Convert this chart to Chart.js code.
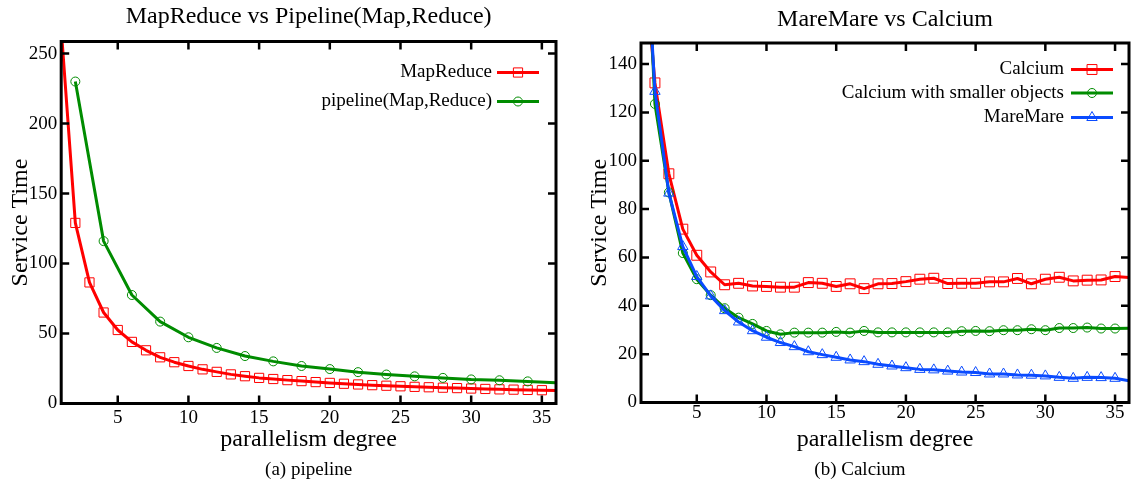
<!DOCTYPE html>
<html>
<head>
<meta charset="utf-8">
<script src="https://cdn.jsdelivr.net/npm/chart.js@4.4.1/dist/chart.umd.min.js"></script>
<style>
  html, body { margin: 0; padding: 0; background: #fff; }
  #wrap { position: relative; width: 1131px; height: 484px; }
  canvas { position: absolute; top: 0; }
</style>
</head>
<body>
<div id="wrap">
  <canvas id="left" width="570" height="484" style="left:0"></canvas>
  <canvas id="right" width="561" height="484" style="left:570px"></canvas>
</div>
<script>
// (a) MapReduce vs pipeline
const mapReduceX = [1, 2, 3, 4, 5, 6, 7, 8, 9, 10, 11, 12, 13, 14, 15, 16, 17, 18,
                    19, 20, 21, 22, 23, 24, 25, 26, 27, 28, 29, 30, 31, 32, 33, 34, 35, 36];
const mapReduceTime = [268, 129, 86.5, 65, 52.5, 44, 38, 33, 29.5, 26.8, 24.4, 22.6, 20.8, 19.5, 18.3, 17.5, 16.7, 16,
                       15.3, 14.7, 14.1, 13.6, 13.1, 12.7, 12.3, 11.9, 11.6, 11.3, 11, 10.7, 10.4, 10.1, 9.9, 9.7, 9.5, 9.2];
const pipelineX = [2, 4, 6, 8, 10, 12, 14, 16, 18, 20, 22, 24, 26, 28, 30, 32, 34, 36];
const pipelineTime = [230, 116, 77.5, 58.5, 47.3, 39.7, 33.9, 30.1, 26.8, 24.6, 22.4, 20.7, 19.4, 18.3, 17.2, 16.6, 15.8, 14.8];

// (b) Calcium vs MareMare
const calciumX = mapReduceX;
const calciumTime = [200, 132.2, 94.6, 71.7, 60.9, 54, 48.7, 49.3, 48.2, 48, 47.7, 47.7, 49.6, 49.3, 48, 49.1, 47.1, 49.1,
                     49.2, 50, 51, 51.4, 49.2, 49.3, 49.3, 49.9, 49.9, 51.3, 49.1, 51, 51.8, 50.3, 50.6, 50.7, 52.1, 51.7];
const smallerTime = [245, 123.5, 86.9, 61.8, 51, 44.4, 39, 35.1, 32.5, 29.6, 28.2, 28.9, 28.9, 28.9, 29.2, 28.9, 29.6, 29,
                     29, 29, 29, 29, 29, 29.5, 29.6, 29.5, 29.9, 29.9, 30.3, 29.9, 30.8, 30.8, 31, 30.6, 30.6, 30.7];
const mareMareTime = [230, 128.7, 86.6, 64.5, 52.1, 44.1, 38, 33.3, 29.7, 27, 24.8, 23.1, 21, 19.8, 18.7, 17.6, 16.9, 15.8,
                      15.1, 14.4, 13.7, 13.5, 13, 12.6, 12.4, 11.8, 11.8, 11.4, 11.3, 11, 10.4, 10, 10.4, 10.3, 10, 9];

const xTicks = [5, 10, 15, 20, 25, 30, 35];
const yTicksLeft = [0, 50, 100, 150, 200, 250];
const yTicksRight = [0, 20, 40, 60, 80, 100, 120, 140];

const SERIF = "'Liberation Serif', 'DejaVu Serif', serif";

function series(label, xs, ys, color, style, r, order) {
    return {
        label: label,
        order: order,
        data: xs.map((x, i) => ({x: x, y: ys[i]})),
        borderColor: color,
        backgroundColor: 'rgba(0,0,0,0)',
        borderWidth: 3,
        borderJoinStyle: 'round',
        tension: 0,
        pointStyle: style,
        markerRadius: r,
        // no marker where the curve runs into the x range ends
        pointRadius: c => (c.raw && (c.raw.x === 1 || c.raw.x === 36)) ? 0 : r,
        pointBorderColor: color,
        pointBackgroundColor: 'rgba(0,0,0,0)',
        pointBorderWidth: 1
    };
}

// gnuplot style box with inward ticks on all four sides
const frameTicks = {
    id: 'frameTicks',
    afterDatasetsDraw(chart) {
        const {ctx, chartArea: a, scales: {x, y}} = chart;
        ctx.save();
        ctx.strokeStyle = '#000';
        ctx.lineWidth = 2.5;
        ctx.beginPath();
        x.ticks.forEach(t => {
            const px = x.getPixelForValue(t.value);
            ctx.moveTo(px, a.bottom); ctx.lineTo(px, a.bottom - 8);
            ctx.moveTo(px, a.top); ctx.lineTo(px, a.top + 8);
        });
        y.ticks.forEach(t => {
            const py = y.getPixelForValue(t.value);
            if (py > a.bottom - 2) return;
            ctx.moveTo(a.left, py); ctx.lineTo(a.left + 8, py);
            ctx.moveTo(a.right, py); ctx.lineTo(a.right - 8, py);
        });
        ctx.stroke();
        ctx.lineWidth = 3;
        ctx.strokeRect(a.left, a.top, a.right - a.left, a.bottom - a.top);
        ctx.restore();
    }
};

// key in the top right corner: text, then line sample with marker
const keyBox = {
    id: 'keyBox',
    afterDatasetsDraw(chart, args, o) {
        const {ctx, chartArea: a} = chart;
        ctx.save();
        ctx.font = '19px ' + SERIF;
        ctx.textAlign = 'right';
        ctx.textBaseline = 'middle';
        chart.data.datasets.forEach((ds, i) => {
            const y = o.rows[i];
            ctx.fillStyle = '#000';
            ctx.fillText(ds.label, a.right - o.textGap, y);
            ctx.strokeStyle = ds.borderColor;
            ctx.lineWidth = 3;
            ctx.beginPath();
            ctx.moveTo(a.right - o.from, y);
            ctx.lineTo(a.right - o.to, y);
            ctx.stroke();
            ctx.lineWidth = 1;
            ctx.fillStyle = 'rgba(0,0,0,0)';
            Chart.helpers.drawPoint(ctx, {pointStyle: ds.pointStyle, radius: ds.markerRadius, borderWidth: 1, rotation: 0},
                a.right - (o.from + o.to) / 2, y);
        });
        ctx.restore();
    }
};

// title above and caption below
const captions = {
    id: 'captions',
    afterDraw(chart, args, o) {
        const {ctx, chartArea: a} = chart;
        const cx = (a.left + a.right) / 2;
        ctx.save();
        ctx.fillStyle = '#000';
        ctx.textAlign = 'center';
        ctx.textBaseline = 'middle';
        ctx.font = '24px ' + SERIF;
        ctx.fillText(o.title, cx, o.titleY);
        ctx.font = '19px ' + SERIF;
        ctx.fillText(o.caption, cx + o.captionShift, o.captionY);
        ctx.restore();
    }
};

function makeChart(id, datasets, yMax, yTicks, box, key, cap) {
    return new Chart(document.getElementById(id), {
        type: 'line',
        data: {datasets: datasets},
        plugins: [frameTicks, keyBox, captions],
        options: {
            responsive: false,
            animation: false,
            events: [],
            layout: {padding: {left: 0, right: box.right, top: box.top, bottom: 22}},
            scales: {
                x: {
                    type: 'linear', min: 1, max: 36,
                    afterBuildTicks: s => { s.ticks = xTicks.map(v => ({value: v})); },
                    afterFit: s => { s.height = box.xHeight; },
                    grid: {display: false, drawTicks: false},
                    border: {display: false},
                    ticks: {color: '#000', padding: box.xPad, font: {family: SERIF, size: 19, lineHeight: 1}},
                    title: {display: true, text: 'parallelism degree', color: '#000',
                            padding: {top: 0, bottom: 10}, font: {family: SERIF, size: 24, lineHeight: 1}}
                },
                y: {
                    min: 0, max: yMax,
                    afterBuildTicks: s => { s.ticks = yTicks.map(v => ({value: v})); },
                    afterFit: s => { s.width = box.yWidth; },
                    grid: {display: false, drawTicks: false},
                    border: {display: false},
                    ticks: {color: '#000', padding: 4, font: {family: SERIF, size: 19, lineHeight: 1}},
                    title: {display: true, text: 'Service Time', color: '#000',
                            padding: {top: box.yTitlePad, bottom: 0}, font: {family: SERIF, size: 24, lineHeight: 1}}
                }
            },
            plugins: {
                legend: {display: false},
                tooltip: {enabled: false},
                keyBox: key,
                captions: cap
            }
        }
    });
}

makeChart('left', [
        series('MapReduce', mapReduceX, mapReduceTime, '#ff0000', 'rect', 6.5, 2),
        series('pipeline(Map,Reduce)', pipelineX, pipelineTime, '#008c00', 'circle', 4.5, 1)
    ], 258.6, yTicksLeft,
    {right: 14, top: 41.5, xHeight: 58.5, yWidth: 61.2, xPad: 5, yTitlePad: 9},
    {rows: [72.5, 101.5], textGap: 64, from: 59, to: 17},
    {title: 'MapReduce vs Pipeline(Map,Reduce)', titleY: 17, caption: '(a) pipeline', captionY: 470, captionShift: 0});

makeChart('right', [
        series('Calcium', calciumX, calciumTime, '#ff0000', 'rect', 7, 3),
        series('Calcium with smaller objects', calciumX, smallerTime, '#008c00', 'circle', 4.5, 2),
        series('MareMare', calciumX, mareMareTime, '#0a4bff', 'triangle', 6, 1)
    ], 148.7, yTicksRight,
    {right: 2, top: 43, xHeight: 59.5, yWidth: 71, xPad: 1, yTitlePad: 18},
    {rows: [69.5, 93, 117.5], textGap: 65, from: 58, to: 16},
    {title: 'MareMare vs Calcium', titleY: 20, caption: '(b) Calcium', captionY: 470, captionShift: -25});
</script>
</body>
</html>
